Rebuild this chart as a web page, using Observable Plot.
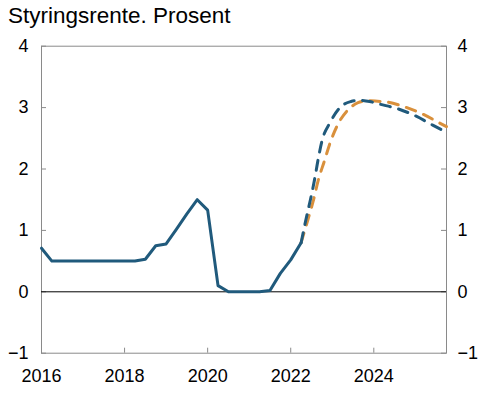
<!DOCTYPE html>
<html><head><meta charset="utf-8">
<script src="https://cdn.jsdelivr.net/npm/d3@7"></script>
<script src="https://cdn.jsdelivr.net/npm/@observablehq/plot@0.6"></script>
<style>
body{margin:0;background:#fff;font-family:"Liberation Sans",Arial,sans-serif;}
#title{height:31px;box-sizing:border-box;padding:1px 0 0 8px;font-size:22.5px;line-height:30px;color:#000;white-space:nowrap;}
</style></head><body>
<div id="title">Styringsrente. Prosent</div>
<div id="chart"></div>
<script>
// Historical policy rate (quarterly)
const histDates = [2016.00,2016.25,2016.50,2016.75,2017.00,2017.25,2017.50,2017.75,2018.00,2018.25,2018.50,2018.75,2019.00,2019.25,2019.50,2019.75,2020.00,2020.25,2020.50,2020.75,2021.00,2021.25,2021.50,2021.75,2022.00,2022.25];
const histValues = [0.71,0.50,0.50,0.50,0.50,0.50,0.50,0.50,0.50,0.50,0.53,0.75,0.78,1.02,1.27,1.50,1.33,0.10,0.00,0.00,0.00,0.00,0.02,0.30,0.52,0.80];
// Projection (blue dashed)
const blueDates = [2022.25,2022.37,2022.49,2022.58,2022.65,2022.75,2022.95,2023.20,2023.45,2023.64,2023.90,2024.12,2024.58,2025.02,2025.43,2025.75];
const blueValues = [0.80,1.19,1.55,1.85,2.12,2.45,2.76,3.01,3.10,3.12,3.10,3.06,2.98,2.86,2.71,2.60];
// Projection (orange dashed)
const orangeDates = [2022.25,2022.42,2022.55,2022.66,2022.81,2022.95,2023.13,2023.42,2023.62,2023.84,2024.31,2024.75,2025.19,2025.61,2025.75];
const orangeValues = [0.80,1.19,1.50,1.81,2.13,2.43,2.72,2.99,3.08,3.11,3.09,3.01,2.89,2.74,2.69];
// Ticks
const yTicks = [-1,0,1,2,3,4];
const xTicks = [2016,2018,2020,2022,2024];

const hist = histDates.map((d,i)=>({x:d,y:histValues[i]}));
const blue = blueDates.map((d,i)=>({x:d,y:blueValues[i]}));
const orange = orangeDates.map((d,i)=>({x:d,y:orangeValues[i]}));

const BLUE = "#205a7c", ORANGE = "#d9903c", FRAME = "#8a8a8a";
const fmt = d => d < 0 ? "\u2212" + Math.abs(d) : String(d);

const W = 482, H = 368, mt = 14.7, mb = 46.3, ml = 41, mr = 36;
const innerW = W - ml - mr, innerH = H - mt - mb;

const chart = Plot.plot({
  width: W, height: H,
  marginTop: mt, marginBottom: mb, marginLeft: ml, marginRight: mr,
  style: {fontFamily: "'Liberation Sans', Arial, sans-serif", fontSize: "18px", color: "#000", background: "#fff"},
  x: {domain: [2016, 2025.75], label: null},
  y: {domain: [-1, 4], label: null},
  marks: [
    Plot.frame({stroke: FRAME, strokeWidth: 1}),
    Plot.tickY(yTicks, {y: d => d, stroke: FRAME, insetRight: innerW - 5}),
    Plot.tickY(yTicks, {y: d => d, stroke: FRAME, insetLeft: innerW - 5}),
    Plot.tickX(xTicks, {x: d => d, stroke: FRAME, insetTop: innerH - 5}),
    Plot.axisY(yTicks, {anchor: "left", label: null, tickSize: 0, tickPadding: 13, tickFormat: fmt, fill: "#000"}),
    Plot.axisY(yTicks, {anchor: "right", label: null, tickSize: 0, tickPadding: 11, tickFormat: fmt, fill: "#000"}),
    Plot.axisX(xTicks, {anchor: "bottom", label: null, tickSize: 0, tickPadding: 16, tickFormat: d => String(d), fill: "#000"}),
    Plot.ruleY([0], {stroke: "#000", strokeWidth: 1}),
    Plot.line(orange, {x: "x", y: "y", stroke: ORANGE, strokeWidth: 3, strokeDasharray: "10,8.5", curve: "monotone-x"}),
    Plot.line(blue, {x: "x", y: "y", stroke: BLUE, strokeWidth: 3, strokeDasharray: "10,8.5", curve: "monotone-x"}),
    Plot.line(hist, {x: "x", y: "y", stroke: BLUE, strokeWidth: 3, strokeLinejoin: "round"})
  ]
});
document.getElementById("chart").appendChild(chart);
</script>
</body></html>
